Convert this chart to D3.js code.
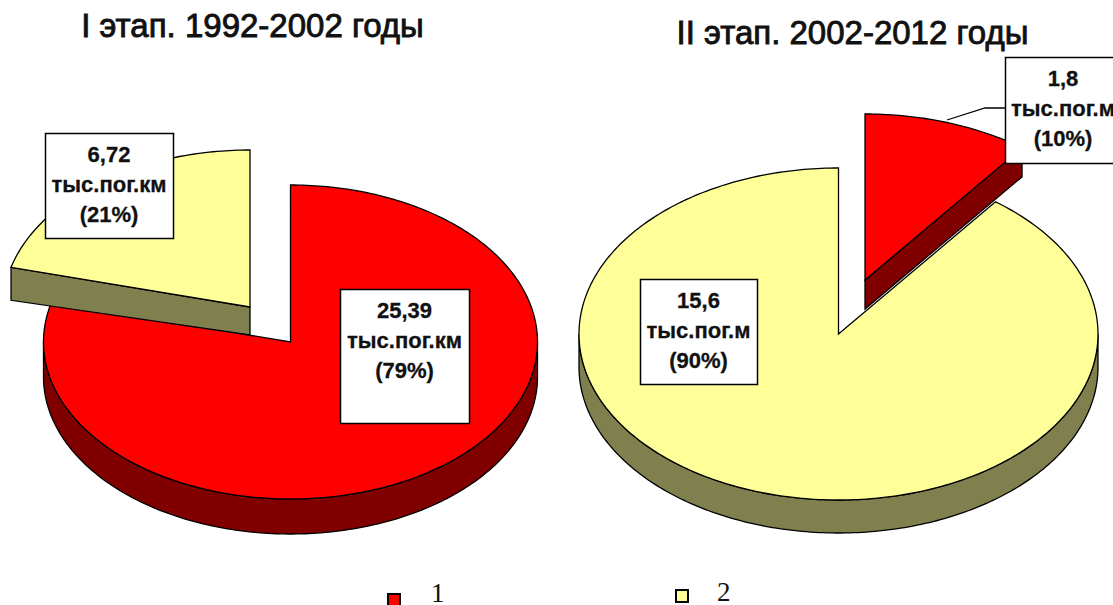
<!DOCTYPE html>
<html><head><meta charset="utf-8">
<script src="https://cdn.jsdelivr.net/npm/d3@7"></script>
<style>html,body{margin:0;background:#fff;overflow:hidden}svg{display:block}</style>
</head><body><svg id="c" width="1113" height="605"></svg>
<script>
const categories = ["1", "2"];
const stageOneValues = [25.39, 6.72];
const stageTwoValues = [1.8, 15.6];
const titles = ["I этап. 1992-2002 годы", "II этап. 2002-2012 годы"];
const stageOneLabels = [["25,39", "тыс.пог.км", "(79%)"], ["6,72", "тыс.пог.км", "(21%)"]];
const stageTwoLabels = [["1,8", "тыс.пог.м", "(10%)"], ["15,6", "тыс.пог.м", "(90%)"]];
const topColors = ["#ff0000", "#ffff99"];
const sideColors = ["#800000", "#80804e"];

const svg = d3.select("#c");
const colorTop = d3.scaleOrdinal(categories, topColors);
const colorSide = d3.scaleOrdinal(categories, sideColors);
const edge = 1.3;

function drawPie(values, o) {
  const pie = d3.pie().sort(null).startAngle(o.start).endAngle(o.start + 2 * Math.PI);
  const arcs = pie(values);
  const sx = d3.scaleLinear().domain([-1, 1]).range([o.cx - o.rx, o.cx + o.rx]);
  const sy = d3.scaleLinear().domain([-1, 1]).range([o.cy - o.ry, o.cy + o.ry]);
  const line = d3.line().x(d => sx(d[0])).y(d => sy(d[1]));
  const pt = a => [Math.sin(a), -Math.cos(a)];
  const arcPts = (a0, a1) => {
    const n = Math.max(2, Math.ceil(Math.abs(a1 - a0) * 60));
    return d3.range(n + 1).map(i => pt(a0 + (a1 - a0) * i / n));
  };
  const depthY = d => d / (o.ry);
  o.order.forEach(i => {
    const a = arcs[i], off = o.offset[i] || [0, 0];
    const g = svg.append("g").attr("transform", `translate(${off[0]},${off[1]})`);
    const d = o.depth[i];
    const dc = o.depthCenter[i];
    const lo = Math.max(a.startAngle, Math.PI / 2), hi = Math.min(a.endAngle, 3 * Math.PI / 2);
    if (hi > lo) {
      const top = arcPts(lo, hi);
      const bot = top.slice().reverse().map(p => [p[0], p[1] + depthY(d)]);
      g.append("path").attr("d", line(top.concat(bot)) + "Z")
        .attr("fill", colorSide(categories[i])).attr("stroke", "#000").attr("stroke-width", edge);
    }
    o.cuts.filter(c => c.wedge === i).forEach(c => {
      const ang = c.end ? a.endAngle : a.startAngle;
      const p = pt(ang);
      g.append("path").attr("d", line([[0, 0], p, [p[0], p[1] + depthY(d)], [0, depthY(dc)]]) + "Z")
        .attr("fill", colorSide(categories[i])).attr("stroke", "#000").attr("stroke-width", edge);
    });
    g.append("path").attr("d", line([[0, 0]].concat(arcPts(a.startAngle, a.endAngle))) + "Z")
      .attr("fill", colorTop(categories[i])).attr("stroke", "#000").attr("stroke-width", edge);
  });
}

drawPie(stageOneValues, {
  cx: 290.5, cy: 342, rx: 247, ry: 157, start: 0,
  offset: [[0, 0], [-40.5, -35]], depth: [35, 33], depthCenter: [35, 28], order: [0, 1],
  cuts: [{ wedge: 1, end: false }]
});
drawPie(stageTwoValues, {
  cx: 838.5, cy: 334, rx: 259.5, ry: 166, start: 0,
  offset: [[26.5, -54], [0, 0]], depth: [29, 33], depthCenter: [29, 33], order: [1, 0],
  cuts: [{ wedge: 0, end: true }]
});

svg.append("path").attr("d", d3.line()([[947, 120], [985, 108], [1005, 108]]))
  .attr("fill", "none").attr("stroke", "#000").attr("stroke-width", edge);

function labelBox(lines, x, y, w, h) {
  svg.append("rect").attr("x", x + .5).attr("y", y + .5).attr("width", w).attr("height", h)
    .attr("fill", "#fff").attr("stroke", "#000").attr("stroke-width", 1.5);
  lines.forEach((t, i) => svg.append("text").text(t)
    .attr("x", x + w / 2).attr("y", y + 29 + i * 30)
    .attr("text-anchor", "middle").attr("font-family", "'Liberation Sans',Arial,sans-serif")
    .attr("font-weight", "bold").attr("font-size", 22).attr("fill", "#111")
    .attr("stroke", "#111").attr("stroke-width", .3));
}
labelBox(stageOneLabels[0], 340, 289, 129, 134);
labelBox(stageOneLabels[1], 45, 133, 128, 105);
labelBox(stageTwoLabels[0], 1005, 57, 116, 106);
labelBox(stageTwoLabels[1], 640, 279, 117, 105);

const titleX = [252.5, 852.5], titleY = [37, 44];
titles.forEach((t, i) => svg.append("text").text(t)
  .attr("x", titleX[i]).attr("y", titleY[i]).attr("text-anchor", "middle")
  .attr("font-family", "'Liberation Sans',Arial,sans-serif").attr("font-size", 33)
  .attr("stroke", "#111").attr("stroke-width", .9).attr("fill", "#111"));

const legendX = [388, 676], legendY = [594, 590], legendTextX = [431, 717], legendTextY = [602, 601];
categories.forEach((c, i) => {
  svg.append("rect").attr("x", legendX[i]).attr("y", legendY[i]).attr("width", 12).attr("height", 12)
    .attr("fill", colorTop(c)).attr("stroke", "#000").attr("stroke-width", 2);
  svg.append("text").text(c).attr("x", legendTextX[i]).attr("y", legendTextY[i])
    .attr("text-anchor", "start").attr("font-family", "'Liberation Serif','Times New Roman',serif")
    .attr("font-size", 27).attr("fill", "#111");
});
</script></body></html>
